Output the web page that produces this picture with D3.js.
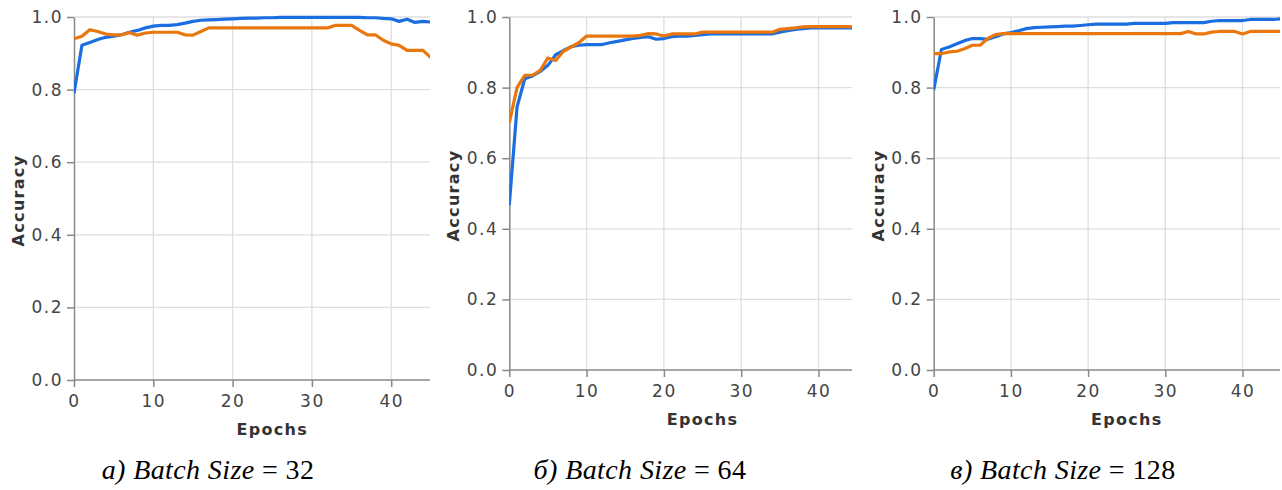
<!DOCTYPE html>
<html>
<head>
<meta charset="utf-8">
<script src="https://cdn.jsdelivr.net/npm/d3@7/dist/d3.min.js"></script>
<style>
  body { margin: 0; background: #fff; }
</style>
</head>
<body>
<svg id="chart" width="1282" height="490"></svg>
<script>
// epochs shown in every panel
const epochs = [0, 1, 2, 3, 4, 5, 6, 7, 8, 9, 10, 11, 12, 13, 14, 15, 16, 17, 18, 19, 20, 21, 22,
  23, 24, 25, 26, 27, 28, 29, 30, 31, 32, 33, 34, 35, 36, 37, 38, 39, 40, 41, 42, 43, 44, 45];

const xTicks = [0, 10, 20, 30, 40];
const yTicks = [0, 0.2, 0.4, 0.6, 0.8, 1.0];

// batch size 32
const train32 = [0.79, 0.922, 0.93, 0.938, 0.944, 0.947, 0.951, 0.958, 0.963, 0.97, 0.975, 0.977,
  0.977, 0.979, 0.983, 0.988, 0.991, 0.992, 0.993, 0.994, 0.995, 0.996, 0.997, 0.997, 0.998,
  0.998, 0.999, 0.999, 0.999, 0.999, 0.999, 0.999, 0.999, 0.999, 0.999, 0.999, 0.999, 0.998,
  0.998, 0.996, 0.995, 0.988, 0.994, 0.985, 0.988, 0.986];
const val32 = [0.94, 0.947, 0.965, 0.96, 0.953, 0.951, 0.951, 0.957, 0.95, 0.956, 0.958, 0.958,
  0.958, 0.958, 0.951, 0.95, 0.96, 0.97, 0.97, 0.97, 0.97, 0.97, 0.97, 0.97, 0.97, 0.97, 0.97,
  0.97, 0.97, 0.97, 0.97, 0.97, 0.97, 0.977, 0.977, 0.977, 0.963, 0.951, 0.951, 0.936, 0.926,
  0.922, 0.908, 0.908, 0.908, 0.888];

// batch size 64
const train64 = [0.467, 0.745, 0.825, 0.833, 0.846, 0.863, 0.893, 0.905, 0.916, 0.92, 0.922,
  0.922, 0.922, 0.927, 0.931, 0.935, 0.939, 0.942, 0.944, 0.937, 0.939, 0.944, 0.946, 0.946,
  0.948, 0.95, 0.952, 0.952, 0.952, 0.952, 0.952, 0.952, 0.952, 0.952, 0.952, 0.957, 0.961,
  0.965, 0.967, 0.969, 0.969, 0.969, 0.969, 0.969, 0.969, 0.97];
const val64 = [0.70, 0.80, 0.835, 0.835, 0.849, 0.884, 0.877, 0.903, 0.915, 0.927, 0.946, 0.946,
  0.946, 0.946, 0.946, 0.946, 0.946, 0.948, 0.953, 0.952, 0.946, 0.952, 0.952, 0.952, 0.952,
  0.957, 0.957, 0.957, 0.957, 0.957, 0.957, 0.957, 0.957, 0.957, 0.957, 0.965, 0.967, 0.969,
  0.972, 0.973, 0.973, 0.973, 0.973, 0.973, 0.973, 0.973];

// batch size 128
const train128 = [0.793, 0.908, 0.915, 0.924, 0.933, 0.939, 0.939, 0.937, 0.944, 0.952, 0.956,
  0.961, 0.967, 0.97, 0.971, 0.972, 0.973, 0.974, 0.974, 0.976, 0.978, 0.98, 0.98, 0.98, 0.98,
  0.98, 0.982, 0.982, 0.982, 0.982, 0.982, 0.984, 0.984, 0.984, 0.984, 0.984, 0.988, 0.99, 0.99,
  0.99, 0.99, 0.993, 0.993, 0.993, 0.993, 0.995];
const val128 = [0.896, 0.896, 0.901, 0.903, 0.91, 0.92, 0.92, 0.939, 0.95, 0.953, 0.953, 0.953,
  0.953, 0.953, 0.953, 0.953, 0.953, 0.953, 0.953, 0.953, 0.953, 0.953, 0.953, 0.953, 0.953,
  0.953, 0.953, 0.953, 0.953, 0.953, 0.953, 0.953, 0.953, 0.959, 0.952, 0.952, 0.957, 0.959,
  0.959, 0.959, 0.952, 0.959, 0.959, 0.959, 0.959, 0.959];

const captionPrefix = ["а)", "б)", "в)"];
const batchSizes = ["32", "64", "128"];

const trainColor = "#1a6ee0";
const valColor = "#ea760e";

// panel geometry (each panel is a cropped screenshot, x axis runs to 50)
const panels = [
  { train: train32, val: val32, x0: 74, x50: 470.5, clipX: 430, top: 17, bottom: 380, captionX: 208 },
  { train: train64, val: val64, x0: 509.3, x50: 895.8, clipX: 852, top: 17, bottom: 370, captionX: 640 },
  { train: train128, val: val128, x0: 933.7, x50: 1319.7, clipX: 1280, top: 17, bottom: 370, captionX: 1063 },
];

const svg = d3.select("#chart");
const tickFont = "'DejaVu Sans', Verdana, sans-serif";

panels.forEach((p, i) => {
  const g = svg.append("g");
  const x = d3.scaleLinear().domain([0, 50]).range([p.x0, p.x50]);
  const y = d3.scaleLinear().domain([0, 1]).range([p.bottom, p.top]);

  g.append("clipPath")
    .attr("id", "clip-" + i)
    .append("rect")
    .attr("x", p.x0)
    .attr("y", 0)
    .attr("width", p.clipX - p.x0)
    .attr("height", p.bottom + 4);

  // gridlines
  g.append("g")
    .selectAll("line")
    .data(yTicks.slice(1))
    .join("line")
    .attr("x1", p.x0)
    .attr("x2", p.clipX)
    .attr("y1", (d) => y(d))
    .attr("y2", (d) => y(d))
    .attr("stroke", "#dedede")
    .attr("stroke-width", 1.3);
  g.append("g")
    .selectAll("line")
    .data(xTicks.slice(1))
    .join("line")
    .attr("x1", (d) => x(d))
    .attr("x2", (d) => x(d))
    .attr("y1", p.top)
    .attr("y2", p.bottom)
    .attr("stroke", "#dedede")
    .attr("stroke-width", 1.3);

  // axes
  const yAxis = g.append("g")
    .attr("transform", `translate(${p.x0},0)`)
    .call(d3.axisLeft(y).tickValues(yTicks).tickSize(7).tickPadding(4).tickSizeOuter(0).tickFormat(d3.format(".1f")));
  const xAxis = g.append("g")
    .attr("transform", `translate(0,${p.bottom})`)
    .call(d3.axisBottom(x).tickValues(xTicks).tickSize(7).tickPadding(8).tickSizeOuter(0));
  xAxis.select(".domain").remove();
  xAxis.append("line")
    .attr("x1", p.x0)
    .attr("x2", p.clipX)
    .attr("stroke", "#888")
    .attr("stroke-width", 1.5);

  [yAxis, xAxis].forEach((a) => {
    a.selectAll(".domain, .tick line").attr("stroke", "#888").attr("stroke-width", 1.5);
    a.selectAll("text")
      .attr("fill", "#444")
      .style("font-family", tickFont)
      .style("font-size", "17px")
      .style("letter-spacing", "1.5px");
  });

  // training / validation lines
  const line = d3.line()
    .x((d, j) => x(epochs[j]))
    .y((d) => y(d));
  const lines = g.append("g").attr("clip-path", `url(#clip-${i})`);
  lines.append("path")
    .attr("d", line(p.train))
    .attr("fill", "none")
    .attr("stroke", trainColor)
    .attr("stroke-width", 3.2)
    .attr("stroke-linejoin", "round");
  lines.append("path")
    .attr("d", line(p.val))
    .attr("fill", "none")
    .attr("stroke", valColor)
    .attr("stroke-width", 3.2)
    .attr("stroke-linejoin", "round");

  // axis titles
  g.append("text")
    .attr("transform", `translate(${p.x0 - 50},${(p.top + p.bottom) / 2 + 2}) rotate(-90)`)
    .attr("text-anchor", "middle")
    .attr("fill", "#333")
    .style("font-family", tickFont)
    .style("font-size", "16px")
    .style("font-weight", "bold")
    .style("letter-spacing", "1.3px")
    .text("Accuracy");
  g.append("text")
    .attr("x", x(25))
    .attr("y", p.bottom + 55)
    .attr("text-anchor", "middle")
    .attr("fill", "#333")
    .style("font-family", tickFont)
    .style("font-size", "16px")
    .style("font-weight", "bold")
    .style("letter-spacing", "1.3px")
    .text("Epochs");

  // caption
  const cap = g.append("text")
    .attr("x", p.captionX)
    .attr("y", 479)
    .attr("text-anchor", "middle")
    .attr("fill", "#000")
    .style("font-family", "'Liberation Serif', 'DejaVu Serif', serif")
    .style("font-size", "28px")
    .style("letter-spacing", "0.4px");
  cap.append("tspan").style("font-style", "italic").text(captionPrefix[i] + " Batch Size");
  cap.append("tspan").text(" = " + batchSizes[i]);
});
</script>
</body>
</html>
